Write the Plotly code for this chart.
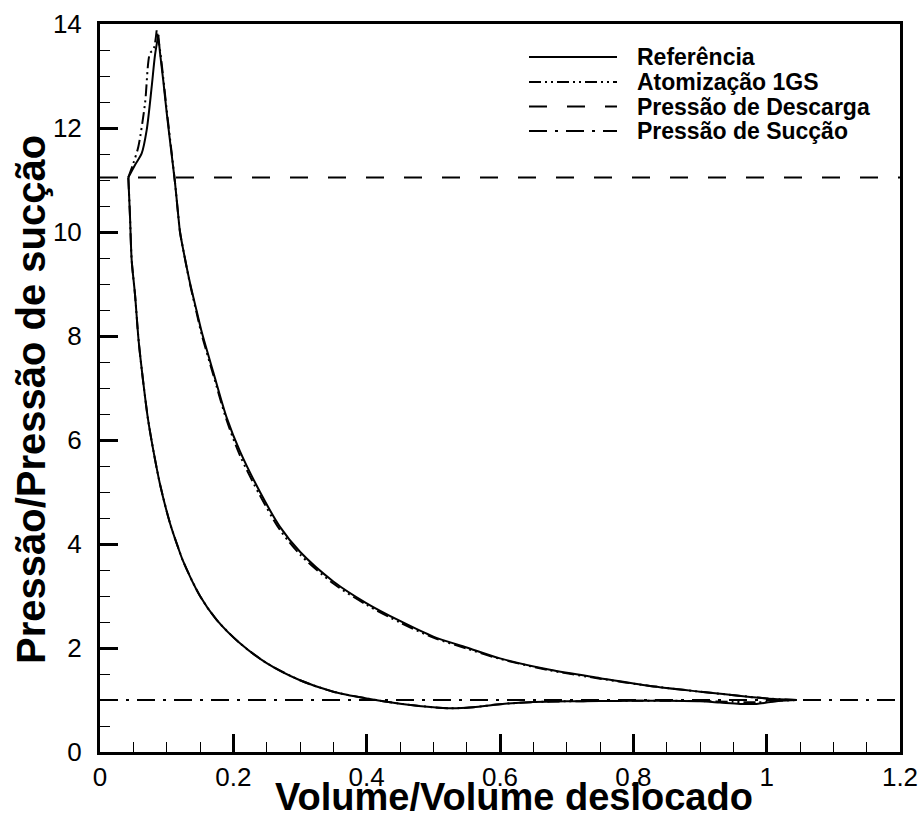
import plotly.graph_objects as go

# ---- data ----
# Referência: expansion, compression and discharge branches of the loop
ref_exp_x = [0.0425, 0.045, 0.0475, 0.0525, 0.058, 0.065, 0.072, 0.08, 0.09, 0.105, 0.1175, 0.125,
             0.15, 0.175, 0.21, 0.25, 0.30, 0.35, 0.40, 0.45, 0.50, 0.525, 0.56, 0.60, 0.65, 0.70,
             0.75, 0.80, 0.85, 0.90, 0.93, 0.96, 0.985, 1.0, 1.02, 1.045]
ref_exp_y = [11.05, 10.3, 9.46, 8.8, 7.9, 7.1, 6.4, 5.8, 5.15, 4.4, 3.92, 3.66,
             3.0, 2.54, 2.09, 1.71, 1.38, 1.16, 1.03, 0.93, 0.86, 0.84, 0.86, 0.92, 0.96, 0.975,
             0.98, 0.985, 0.985, 0.975, 0.95, 0.925, 0.925, 0.95, 0.985, 1.0]
ref_comp_x = [1.045, 1.0, 0.975, 0.9, 0.825, 0.75, 0.675, 0.6, 0.55, 0.5, 0.45, 0.40, 0.35, 0.30,
              0.27, 0.24, 0.21, 0.19, 0.17, 0.1525, 0.145, 0.135, 0.125, 0.12, 0.1175, 0.1125,
              0.105, 0.1, 0.095, 0.09, 0.0875]
ref_comp_y = [1.0, 1.03, 1.06, 1.16, 1.27, 1.42, 1.58, 1.80, 2.01, 2.22, 2.52, 2.86, 3.28, 3.85,
              4.33, 5.0, 5.78, 6.43, 7.3, 8.08, 8.48, 9.02, 9.65, 10.0, 10.3, 10.95,
              11.75, 12.3, 12.9, 13.45, 13.79]
ref_disc_x = [0.0875, 0.0825, 0.0775, 0.07, 0.0625, 0.0525, 0.0425]
ref_disc_y = [13.79, 13.4, 12.79, 11.96, 11.51, 11.29, 11.05]

# Atomização 1GS
atom_exp_x = [0.0425, 0.045, 0.0475, 0.0525, 0.058, 0.065, 0.072, 0.08, 0.09, 0.105, 0.1175, 0.125,
              0.15, 0.175, 0.21, 0.25, 0.30, 0.35, 0.40, 0.45, 0.50, 0.525, 0.56, 0.60, 0.65, 0.70,
              0.75, 0.80, 0.85, 0.90, 0.95, 0.985, 1.02, 1.045]
atom_exp_y = [11.05, 10.3, 9.46, 8.8, 7.9, 7.1, 6.4, 5.8, 5.15, 4.4, 3.92, 3.66,
              3.0, 2.54, 2.09, 1.71, 1.38, 1.16, 1.03, 0.93, 0.86, 0.84, 0.86, 0.92, 0.96, 0.975,
              0.98, 0.985, 0.985, 0.98, 0.965, 0.955, 0.985, 1.0]
atom_comp_x = [1.045, 1.0, 0.975, 0.9, 0.825, 0.75, 0.675, 0.6, 0.55, 0.5, 0.45, 0.40, 0.35, 0.30,
               0.27, 0.24, 0.21, 0.19, 0.17, 0.1525, 0.145, 0.135, 0.125, 0.12, 0.1175, 0.1125,
               0.105, 0.1, 0.095, 0.09, 0.085]
atom_comp_y = [1.0, 1.03, 1.06, 1.16, 1.27, 1.41, 1.57, 1.79, 1.99, 2.20, 2.49, 2.83, 3.24, 3.80,
               4.27, 4.93, 5.70, 6.38, 7.25, 8.03, 8.44, 9.0, 9.65, 10.0, 10.3, 10.95,
               11.8, 12.35, 12.95, 13.5, 13.88]
atom_disc_x = [0.085, 0.08, 0.075, 0.0675, 0.0575, 0.05, 0.0425]
atom_disc_y = [13.88, 13.5, 13.44, 12.47, 11.64, 11.32, 11.05]

discharge_pressure = 11.05
suction_pressure = 1.0
x_limits = [0, 1.2]
y_limits = [0, 14]

legend_names = ["Referência", "Atomização 1GS", "Pressão de Descarga", "Pressão de Sucção"]
x_title = "Volume/Volume deslocado"
y_title = "Pressão/Pressão de sucção"

DASH_ATOM = "12px,4px,2px,4px,2px,4px"
DASH_DISCH = "18px,20px"
DASH_SUCT = "18px,8px,3px,8px"
legend_dashes = ["solid", DASH_ATOM, DASH_DISCH, DASH_SUCT]
FONT = "Liberation Sans, Arial, sans-serif"


def join_branches(*branches):
    out = []
    for i, b in enumerate(branches):
        if i:
            out.append(None)
        out.extend(b)
    return out


fig = go.Figure()
fig.add_trace(go.Scatter(x=x_limits, y=[discharge_pressure] * 2, mode="lines",
                         line=dict(color="black", width=2, dash=DASH_DISCH),
                         name=legend_names[2], showlegend=False))
fig.add_trace(go.Scatter(x=x_limits, y=[suction_pressure] * 2, mode="lines",
                         line=dict(color="black", width=2, dash=DASH_SUCT),
                         name=legend_names[3], showlegend=False))
fig.add_trace(go.Scatter(x=join_branches(atom_exp_x, atom_comp_x, atom_disc_x),
                         y=join_branches(atom_exp_y, atom_comp_y, atom_disc_y),
                         mode="lines", connectgaps=False,
                         line=dict(color="black", width=2, dash=DASH_ATOM, shape="spline",
                                   smoothing=0.8),
                         name=legend_names[1], showlegend=False))
fig.add_trace(go.Scatter(x=join_branches(ref_exp_x, ref_comp_x, ref_disc_x),
                         y=join_branches(ref_exp_y, ref_comp_y, ref_disc_y),
                         mode="lines", connectgaps=False,
                         line=dict(color="black", width=2, shape="spline", smoothing=0.8),
                         name=legend_names[0], showlegend=False))

# plot area geometry (px)
W, H = 922, 817
ml, mr, mt, mb = 100, 22, 24, 65
pw, ph = W - ml - mr, H - mt - mb


def px2paper(px, py):
    return (px - ml) / pw, (H - mb - py) / ph


# custom legend (long line samples like the reference)
rows_y = [57, 82, 106.5, 131]
for name, dash, ry in zip(legend_names, legend_dashes, rows_y):
    x0, y0 = px2paper(529, ry)
    x1, _ = px2paper(617, ry)
    fig.add_shape(type="line", xref="paper", yref="paper", x0=x0, x1=x1, y0=y0, y1=y0,
                  line=dict(color="black", width=2, dash=dash))
    tx, _ = px2paper(635, ry)
    fig.add_annotation(xref="paper", yref="paper", x=tx, y=y0, text="<b>%s</b>" % name,
                       showarrow=False, xanchor="left", yanchor="middle",
                       font=dict(family=FONT, size=23, color="black"))

# axis titles
tx, ty = px2paper(514, 796.5)
fig.add_annotation(xref="paper", yref="paper", x=tx, y=ty, text="<b>%s</b>" % x_title,
                   showarrow=False, xanchor="center", yanchor="middle",
                   font=dict(family=FONT, size=38, color="black"))
tx, ty = px2paper(31, 400)
fig.add_annotation(xref="paper", yref="paper", x=tx, y=ty, text="<b>%s</b>" % y_title,
                   showarrow=False, xanchor="center", yanchor="middle", textangle=-90,
                   font=dict(family=FONT, size=40, color="black"))

axis_common = dict(showline=True, linecolor="black", linewidth=3, mirror=True,
                   ticks="inside", ticklen=18, tickwidth=3, tickcolor="black",
                   showgrid=False, zeroline=False, automargin=False,
                   tickfont=dict(family=FONT, size=26, color="black"))

fig.update_layout(
    width=W, height=H,
    margin=dict(l=ml, r=mr, t=mt, b=mb, autoexpand=False),
    plot_bgcolor="white", paper_bgcolor="white",
    showlegend=False,
    xaxis=dict(range=x_limits, dtick=0.2, tick0=0,
               minor=dict(ticks="inside", ticklen=10, tickwidth=1, dtick=0.05, tickcolor="black"),
               **axis_common),
    yaxis=dict(range=y_limits, dtick=2, tick0=0, ticklabelstandoff=10,
               minor=dict(ticks="inside", ticklen=10, tickwidth=1, dtick=0.5, tickcolor="black"),
               **axis_common),
)

fig.write_html("out.html", config={"displayModeBar": False},
               post_script="document.body.style.margin='0';document.body.style.overflow='hidden';")
